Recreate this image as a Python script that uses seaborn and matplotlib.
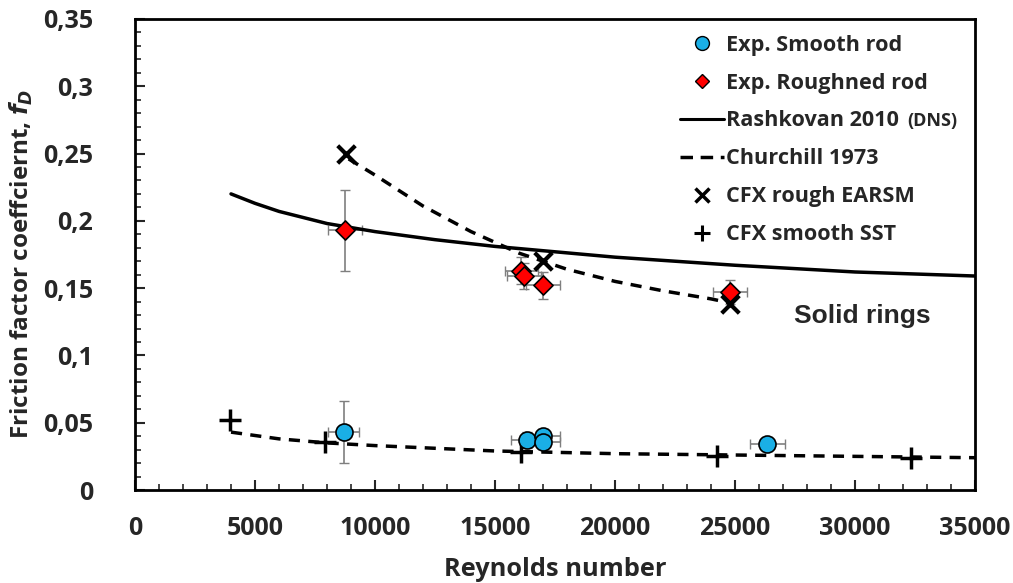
import numpy as np
import pandas as pd
import matplotlib
matplotlib.use("Agg")
import matplotlib.pyplot as plt
from matplotlib.lines import Line2D
from matplotlib.ticker import MultipleLocator
import seaborn as sns

# ---------------- data ----------------
smooth_re = [8700, 16350, 17000, 17000, 26350]
smooth_f = [0.043, 0.037, 0.040, 0.036, 0.034]
smooth_xerr = [650, 700, 700, 700, 730]
smooth_yerr = [0.023, 0.006, 0.005, 0.004, 0.002]

rough_re = [8750, 16100, 16200, 17000, 24800]
rough_f = [0.193, 0.163, 0.159, 0.152, 0.147]
rough_xerr = [700, 700, 700, 700, 700]
rough_yerr = [0.030, 0.010, 0.010, 0.010, 0.009]

rash_re = [4000, 5000, 6000, 8000, 10000, 12500, 15000, 17500, 20000, 25000, 30000, 35000]
rash_f = [0.220, 0.213, 0.207, 0.198, 0.192, 0.186, 0.181, 0.177, 0.173, 0.167, 0.162, 0.159]

church_rough_re = [8900, 10000, 12000, 14000, 16000, 18000, 20000, 22000, 24000, 24800]
church_rough_f = [0.246, 0.234, 0.211, 0.192, 0.176, 0.164, 0.155, 0.148, 0.142, 0.139]

church_smooth_re = [4000, 6000, 8000, 10000, 12500, 15000, 17500, 20000, 25000, 30000, 35000]
church_smooth_f = [0.043, 0.038, 0.035, 0.033, 0.031, 0.029, 0.028, 0.027, 0.026, 0.025, 0.024]

cfx_rough_re = [8800, 17000, 24800]
cfx_rough_f = [0.250, 0.170, 0.138]

cfx_smooth_re = [3950, 7900, 16100, 24250, 32350]
cfx_smooth_f = [0.052, 0.036, 0.028, 0.025, 0.024]

y_ticks = [0, 0.05, 0.1, 0.15, 0.2, 0.25, 0.3, 0.35]
y_ticklabels = ["0", "0,05", "0,1", "0,15", "0,2", "0,25", "0,3", "0,35"]
x_ticks = [0, 5000, 10000, 15000, 20000, 25000, 30000, 35000]
x_ticklabels = [str(v) for v in x_ticks]

# ---------------- style ----------------
sns.set_style("ticks")
FONT = ["Open Sans", "DejaVu Sans"]
plt.rcParams["font.family"] = FONT
plt.rcParams["font.weight"] = "bold"
plt.rcParams["mathtext.fontset"] = "dejavusans"

fig = plt.figure(figsize=(10.13, 5.83), dpi=100)
ax = fig.add_axes([0.1333, 0.1595, 0.8292, 0.808])

BLUE = "#1AAFE6"
RED = "#FF0000"

# error bars
ax.errorbar(smooth_re, smooth_f, xerr=smooth_xerr, yerr=smooth_yerr, fmt="none",
            ecolor="#7f7f7f", elinewidth=1.2, capsize=3.5, capthick=1.0, zorder=2)
ax.errorbar(rough_re, rough_f, xerr=rough_xerr, yerr=rough_yerr, fmt="none",
            ecolor="#7f7f7f", elinewidth=1.2, capsize=3.5, capthick=1.0, zorder=2)

# lines
sns.lineplot(x=rash_re, y=rash_f, ax=ax, color="black", linewidth=2.5, zorder=3)
sns.lineplot(x=church_rough_re, y=church_rough_f, ax=ax, color="black", linewidth=2.5,
             linestyle=(0, (3.2, 2.4)), zorder=3)
sns.lineplot(x=church_smooth_re, y=church_smooth_f, ax=ax, color="black", linewidth=2.5,
             linestyle=(0, (3.2, 2.4)), zorder=3)

# markers
sns.scatterplot(x=smooth_re, y=smooth_f, ax=ax, marker="o", s=150, color=BLUE,
                edgecolor="black", linewidth=1.2, zorder=5)
sns.scatterplot(x=rough_re, y=rough_f, ax=ax, marker="D", s=95, color=RED,
                edgecolor="black", linewidth=1.2, zorder=5)
sns.scatterplot(x=cfx_rough_re, y=cfx_rough_f, ax=ax, marker="x", s=160, color="black",
                linewidth=3, zorder=4)
sns.scatterplot(x=cfx_smooth_re, y=cfx_smooth_f, ax=ax, marker="+", s=230, color="black",
                linewidth=2.5, zorder=4)

ax.set_xlim(0, 35000)
ax.set_ylim(0, 0.35)
ax.set_xticks(x_ticks)
ax.set_xticklabels(x_ticklabels)
ax.set_yticks(y_ticks)
ax.set_yticklabels(y_ticklabels)
ax.xaxis.set_minor_locator(MultipleLocator(1000))
ax.yaxis.set_minor_locator(MultipleLocator(0.01))
ax.tick_params(axis="both", which="major", direction="in", length=7, width=1.5,
               labelsize=18)
ax.tick_params(axis="both", which="minor", direction="in", length=4, width=1.2)
ax.tick_params(axis="x", which="major", pad=18.5)
ax.tick_params(axis="y", which="major", pad=30)
for lab in ax.get_xticklabels() + ax.get_yticklabels():
    lab.set_fontweight("bold")
for sp in ax.spines.values():
    sp.set_visible(True)
    sp.set_linewidth(2)
    sp.set_color("black")

ax.set_xlabel("Reynolds number", fontsize=18.3, fontweight="bold", labelpad=12)
ax.set_ylabel(r"Friction factor coeffciernt, $\mathit{f}_{\mathit{D}}$", fontsize=17.5,
              fontweight="bold", labelpad=3)
ax.yaxis.set_label_coords(-0.119, 0.48)

ax.text(30290, 0.129, "Solid rings", fontsize=19, fontweight="bold",
        family="Liberation Sans", ha="center", va="center")

handles = [
    Line2D([], [], linestyle="none", marker="o", markersize=10, markerfacecolor=BLUE,
           markeredgecolor="black", markeredgewidth=1),
    Line2D([], [], linestyle="none", marker="D", markersize=7.5, markerfacecolor=RED,
           markeredgecolor="black", markeredgewidth=1),
    Line2D([], [], color="black", linewidth=2.2),
    Line2D([], [], color="black", linewidth=2.5, linestyle=(0, (3.6, 2.2))),
    Line2D([], [], linestyle="none", marker="x", markersize=10, color="black",
           markeredgewidth=2.5),
    Line2D([], [], linestyle="none", marker="+", markersize=12, color="black",
           markeredgewidth=2.2),
]
labels = ["Exp. Smooth rod", "Exp. Roughned rod", "Rashkovan 2010", "Churchill 1973",
          "CFX rough EARSM", "CFX smooth SST"]
leg = ax.legend(handles, labels, loc="upper left", bbox_to_anchor=(0.639, 0.985),
                frameon=False, fontsize=15.6, handlelength=2.0, handletextpad=0.12,
                labelspacing=0.78, borderaxespad=0.0)
for t in leg.get_texts():
    t.set_fontweight("bold")

fig.canvas.draw()
bb = leg.get_texts()[2].get_window_extent()
x_fig, y_fig = fig.transFigure.inverted().transform((bb.x1 + 8, bb.y0 + 1))
fig.text(x_fig, y_fig, "(DNS)", fontsize=13, fontweight="bold", ha="left", va="bottom")

fig.savefig("out.png", dpi=100)
